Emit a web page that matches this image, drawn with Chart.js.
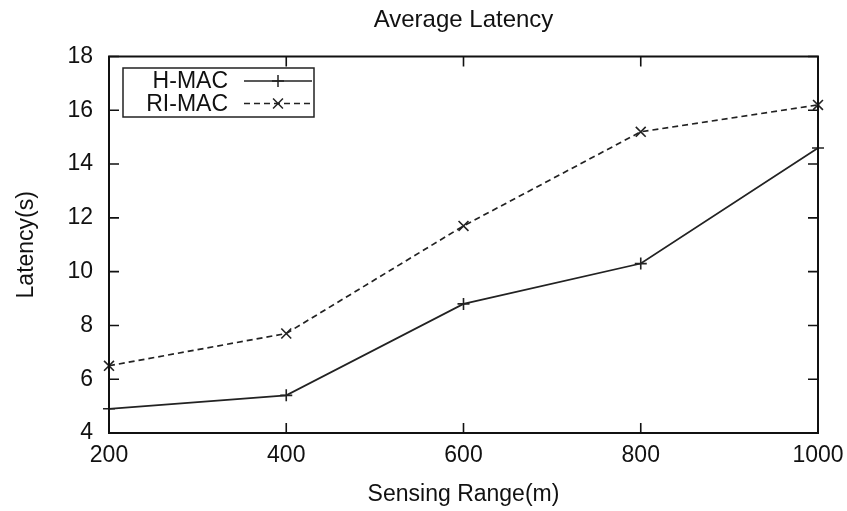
<!DOCTYPE html>
<html>
<head>
<meta charset="utf-8">
<script src="https://cdn.jsdelivr.net/npm/chart.js@4/dist/chart.umd.min.js"></script>
<style>
html,body{margin:0;padding:0;background:#fff;}
#wrap{width:847px;height:511px;}
</style>
</head>
<body>
<div id="wrap"><canvas id="c" width="847" height="511"></canvas></div>
<script>
const chartTitle = 'Average Latency';
const xLabel = 'Sensing Range(m)';
const yLabel = 'Latency(s)';
const sensingRange = [200, 400, 600, 800, 1000];
const hmacLatency = [4.9, 5.4, 8.8, 10.3, 14.6];
const rimacLatency = [6.5, 7.7, 11.7, 15.2, 16.2];
const xTickValues = [200, 400, 600, 800, 1000];
const yTickValues = [4, 6, 8, 10, 12, 14, 16, 18];
const seriesNames = ['H-MAC', 'RI-MAC'];

const FONT = 'Liberation Sans, Arial, Helvetica, sans-serif';

function pts(vals){ return sensingRange.map((x,i)=>({x:x,y:vals[i]})); }

const framePlugin = {
  id: 'frame',
  afterDraw(chart){
    const ctx = chart.ctx, a = chart.chartArea;
    const xs = chart.scales.x, ys = chart.scales.y;
    const tl = 10;
    ctx.save();
    ctx.strokeStyle = '#111';
    ctx.lineWidth = 2;
    ctx.strokeRect(a.left, a.top, a.right - a.left, a.bottom - a.top);
    ctx.lineWidth = 1.6;
    ctx.beginPath();
    xTickValues.forEach(v=>{
      const px = xs.getPixelForValue(v);
      ctx.moveTo(px, a.bottom); ctx.lineTo(px, a.bottom - tl);
      ctx.moveTo(px, a.top); ctx.lineTo(px, a.top + tl);
    });
    yTickValues.forEach(v=>{
      const py = ys.getPixelForValue(v);
      ctx.moveTo(a.left, py); ctx.lineTo(a.left + tl, py);
      ctx.moveTo(a.right, py); ctx.lineTo(a.right - tl, py);
    });
    ctx.stroke();

    // legend
    const bx = 123, by = 68, bw = 191, bh = 49;
    ctx.fillStyle = '#fff';
    ctx.fillRect(bx, by, bw, bh);
    ctx.lineWidth = 1.5;
    ctx.strokeStyle = '#222';
    ctx.strokeRect(bx, by, bw, bh);
    ctx.font = '23px ' + FONT;
    ctx.fillStyle = '#111';
    ctx.textAlign = 'right';
    ctx.textBaseline = 'middle';
    chart.data.datasets.forEach((ds, i)=>{
      const cy = by + 13 + i * 22.5;
      ctx.fillText(ds.label, bx + 105, cy + 1);
      ctx.save();
      ctx.strokeStyle = ds.borderColor;
      ctx.lineWidth = ds.borderWidth;
      ctx.setLineDash(ds.borderDash || []);
      ctx.beginPath();
      ctx.moveTo(bx + 121, cy); ctx.lineTo(bx + 189, cy);
      ctx.stroke();
      ctx.restore();
      Chart.helpers.drawPoint(ctx, {pointStyle: ds.pointStyle, radius: ds.pointRadius, borderWidth: ds.pointBorderWidth, rotation: 0}, bx + 155, cy);
    });
    ctx.restore();
  }
};

new Chart(document.getElementById('c'), {
  type: 'line',
  data: {
    datasets: [
      {
        label: seriesNames[0],
        data: pts(hmacLatency),
        borderColor: '#222',
        backgroundColor: '#222',
        borderWidth: 1.7,
        pointStyle: 'cross',
        pointRadius: 6,
        pointBorderWidth: 1.6,
        pointBorderColor: '#222',
        fill: false,
        tension: 0,
        clip: false
      },
      {
        label: seriesNames[1],
        data: pts(rimacLatency),
        borderColor: '#222',
        backgroundColor: '#222',
        borderWidth: 1.7,
        borderDash: [6, 4],
        pointStyle: 'crossRot',
        pointRadius: 7,
        pointBorderWidth: 1.6,
        pointBorderColor: '#222',
        fill: false,
        tension: 0,
        clip: false
      }
    ]
  },
  plugins: [framePlugin],
  options: {
    responsive: false,
    animation: false,
    devicePixelRatio: 1,
    layout: { padding: { top: 0, right: 29, bottom: 0, left: 0 } },
    plugins: {
      legend: { display: false },
      tooltip: { enabled: false },
      title: {
        display: true,
        fullSize: false,
        text: chartTitle,
        color: '#111',
        font: { family: FONT, size: 24, weight: 'normal', lineHeight: 1.2 },
        padding: { top: 6, bottom: 21.7 }
      }
    },
    scales: {
      x: {
        type: 'linear',
        min: 200, max: 1000,
        afterFit(s){ s.height = 78; s.paddingLeft = 0; s.paddingRight = 0; },
        afterBuildTicks(s){ s.ticks = xTickValues.map(v=>({value:v})); },
        grid: { display: false, drawTicks: false },
        border: { display: false },
        ticks: { color: '#111', font: { family: FONT, size: 23 }, padding: 9, maxRotation: 0, autoSkip: false, callback: v => String(v) },
        title: { display: true, text: xLabel, color: '#111', font: { family: FONT, size: 23 }, padding: { top: 4, bottom: 3 } }
      },
      y: {
        type: 'linear',
        min: 4, max: 18,
        afterFit(s){ s.width = 109; s.paddingTop = 0; s.paddingBottom = 0; },
        afterBuildTicks(s){ s.ticks = yTickValues.map(v=>({value:v})); },
        grid: { display: false, drawTicks: false },
        border: { display: false },
        ticks: { color: '#111', font: { family: FONT, size: 23 }, padding: 16, autoSkip: false, callback: v => String(v) },
        title: { display: true, text: yLabel, color: '#111', font: { family: FONT, size: 23 }, padding: { top: 13, bottom: 0 } }
      }
    }
  }
});
</script>
</body>
</html>
